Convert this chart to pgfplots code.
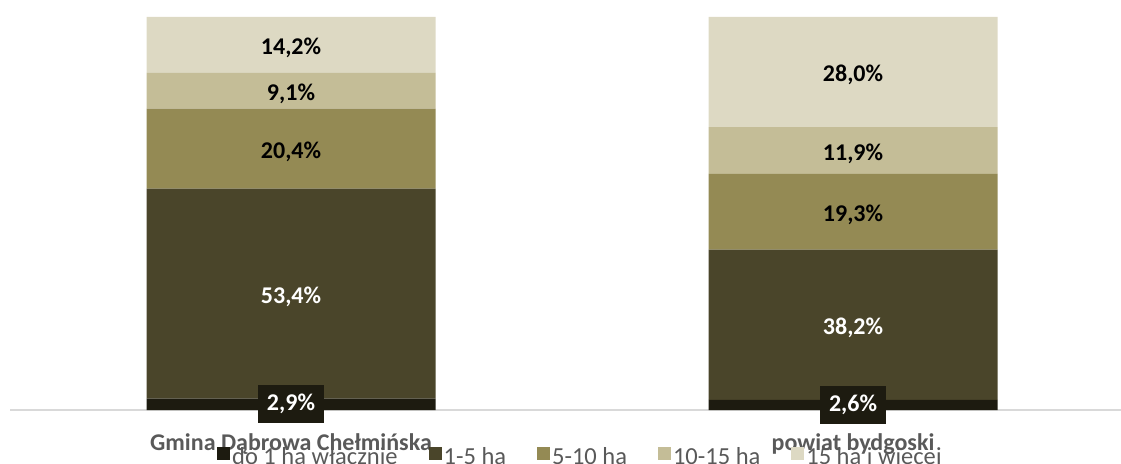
\documentclass[border=0pt]{standalone}
\usepackage{pgfplots}
\pgfplotsset{compat=1.18}
\usepackage{fontspec}
\setmainfont{Carlito}
\definecolor{cA}{HTML}{1D1B10}
\definecolor{cB}{HTML}{4A452A}
\definecolor{cC}{HTML}{948A54}
\definecolor{cD}{HTML}{C4BD97}
\definecolor{cE}{HTML}{DDD9C3}
\definecolor{txt}{HTML}{595959}
\newcommand{\bigf}{\fontsize{24}{28}\selectfont}
\begin{document}
\begin{tikzpicture}
\path[use as bounding box] (0,0) rectangle (1121pt,463pt);
\begin{axis}[
  at={(10pt,53pt)}, anchor=south west,
  scale only axis, width=1110.5pt, height=393pt,
  xmin=-0.5, xmax=1.476, ymin=0, ymax=100,
  ybar stacked, bar width=289pt,
  axis y line=none, axis x line*=bottom,
  x axis line style={draw=black!15, line width=1.6pt, -},
  xtick={0,1}, xticklabels={Gmina Dąbrowa Chełmińska, powiat bydgoski},
  major tick length=0pt,
  xticklabel style={font=\bigf\bfseries, text=txt, anchor=base, yshift=-40pt},
  ytick=\empty,
  clip=false,
  nodes near coords={\pgfmathprintnumber[fixed,fixed zerofill,precision=1,use comma,assume math mode=true]{\pgfplotspointmeta}\%},
  every node near coord/.append style={font=\bigf\bfseries, anchor=center},
  legend style={at={(0.5137,-0.118)}, anchor=center, draw=none, fill=none,
    font=\fontsize{24.5}{28}\selectfont, text=txt, nodes={inner xsep=2pt, inner ysep=0pt},
    /tikz/every even column/.append style={column sep=29pt}},
  legend columns=5,
  legend image code/.code={\path[#1] (0pt,-4pt) rectangle (13pt,9pt);},
]
\addplot[fill=cA, draw=none, every node near coord/.append style={text=white, fill=cA, inner xsep=9pt, minimum height=38pt}] coordinates {(0,2.9) (1,2.6)};
\addplot[fill=cB, draw=none, every node near coord/.append style={text=white, yshift=-3pt}] coordinates {(0,53.4) (1,38.2)};
\addplot[fill=cC, draw=none, every node near coord/.append style={text=black, yshift=-3pt}] coordinates {(0,20.4) (1,19.3)};
\addplot[fill=cD, draw=none, every node near coord/.append style={text=black, yshift=-3pt}] coordinates {(0,9.1) (1,11.9)};
\addplot[fill=cE, draw=none, every node near coord/.append style={text=black, yshift=-3pt}] coordinates {(0,14.2) (1,28.0)};
\legend{do 1 ha włącznie, 1-5 ha, 5-10 ha, 10-15 ha, 15 ha i więcej}
\end{axis}
\end{tikzpicture}
\end{document}
